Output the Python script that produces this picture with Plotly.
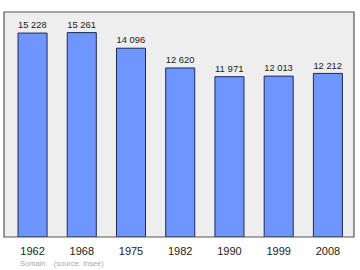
import plotly.graph_objects as go

years = ["1962", "1968", "1975", "1982", "1990", "1999", "2008"]
population = [15228, 15261, 14096, 12620, 11971, 12013, 12212]
labels = ["15 228", "15 261", "14 096", "12 620", "11 971", "12 013", "12 212"]

fig = go.Figure()
fig.add_trace(go.Bar(
    x=years, y=population, text=labels, textposition="outside",
    textfont=dict(family="Liberation Sans, Arial, sans-serif", size=10, color="#222222"),
    marker=dict(color="#6f95ff", line=dict(color="#1f2a55", width=1)),
    width=0.59, cliponaxis=False,
))
fig.update_layout(
    width=360, height=270,
    margin=dict(l=4, r=6, t=12, b=33),
    paper_bgcolor="white", plot_bgcolor="#eeeeee",
    showlegend=False,
    font=dict(family="Liberation Sans, Arial, sans-serif", color="#222222"),
    xaxis=dict(showgrid=False, showline=False, ticks="", tickfont=dict(size=11),
               ticklabelstandoff=6, range=[-0.58, 6.53]),
    yaxis=dict(range=[0, 16800], showgrid=False, showticklabels=False, zeroline=False),
    shapes=[dict(type="rect", xref="paper", yref="paper", x0=0, y0=0, x1=1, y1=1,
                 line=dict(color="#555555", width=1.2), fillcolor="rgba(0,0,0,0)")],
    annotations=[dict(text="Somain&nbsp;&nbsp;&nbsp;&nbsp;(source: Insee)", xref="paper", yref="paper",
                      x=0.04, y=-0.118, xanchor="left", yanchor="middle", showarrow=False,
                      font=dict(size=7.5, color="#aaaaaa"))],
)
fig.write_html("out.html")
